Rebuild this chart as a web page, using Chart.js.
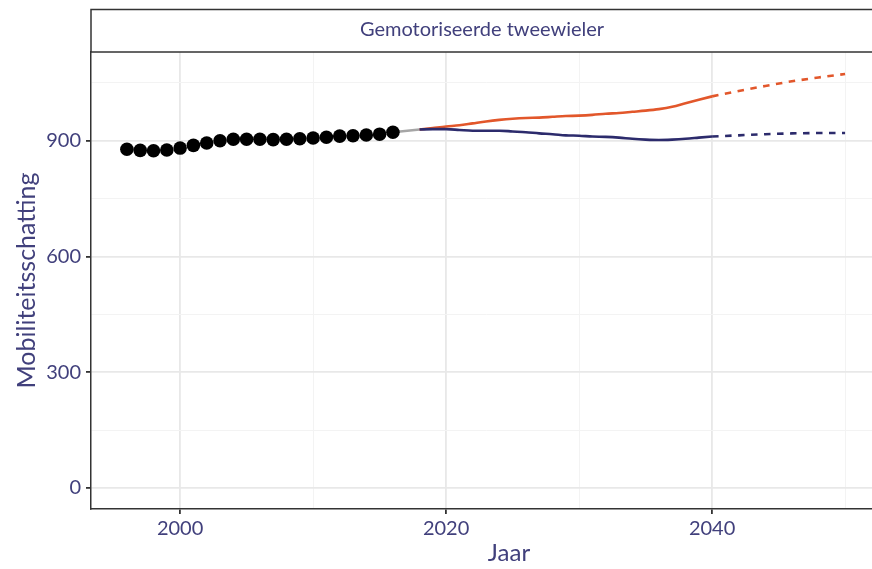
<!DOCTYPE html>
<html>
<head>
<meta charset="utf-8">
<script src="https://cdn.jsdelivr.net/npm/chart.js@4.4.0/dist/chart.umd.min.js"></script>
<style>
  html, body { margin: 0; padding: 0; overflow: hidden; background: #fff; }
  #wrap { width: 900px; height: 569px; }
</style>
</head>
<body>
<div id="wrap"><canvas id="mobChart" width="900" height="569"></canvas></div>
<script>
// gemeten waarden (1996-2016)
const obsYears = [1996, 1997, 1998, 1999, 2000, 2001, 2002, 2003, 2004, 2005, 2006,
                  2007, 2008, 2009, 2010, 2011, 2012, 2013, 2014, 2015, 2016];
const obsValues = [878, 875, 874, 876, 881, 888, 894, 900, 904, 904, 904,
                   903, 904, 905, 907, 909, 912, 913, 915, 917, 922];

// overgang naar de prognose
const linkYears = [2016, 2018];
const linkValues = [922, 929];

// prognose tot 2040 (doorgetrokken)
const projYears = [2018, 2019, 2020, 2021, 2022, 2023, 2024, 2025, 2026, 2027, 2028, 2029,
                   2030, 2031, 2032, 2033, 2034, 2035, 2036, 2037, 2038, 2039, 2040];
const highValues = [929, 933, 937, 940, 945, 950, 954, 957, 959, 960, 962, 964,
                    965, 967, 970, 972, 975, 978, 982, 988, 997, 1006, 1015];
const lowValues = [929, 930, 930, 928, 926, 926, 926, 924, 922, 919, 917, 914,
                   913, 911, 910, 908, 905, 903, 902, 903, 905, 908, 911];

// doorkijk 2040-2050 (gestippeld)
const outYears = [2040, 2042, 2044, 2046, 2048, 2050];
const highOut = [1015, 1029, 1042, 1054, 1064, 1073];
const lowOut = [911, 914, 917, 919, 920, 920];

const xTicks = [2000, 2010, 2020, 2030, 2040, 2050];
const yTicks = [0, 150, 300, 450, 600, 750, 900, 1050];
const facetLabel = 'Gemotoriseerde tweewieler';
const xTitle = 'Jaar';
const yTitle = 'Mobiliteitsschatting';

const textColor = '#41407c';
const orange = '#e2572b';
const navy = '#2c2b6c';

const toPoints = (xs, ys) => xs.map((x, i) => ({ x: x, y: ys[i] }));

const stripPlugin = {
    id: 'strip',
    afterDraw(chart) {
        const ctx = chart.ctx;
        const area = chart.chartArea;
        ctx.save();
        ctx.fillStyle = '#ffffff';
        ctx.fillRect(area.left, 9, area.right - area.left, area.top - 9);
        ctx.strokeStyle = '#333333';
        ctx.lineWidth = 1.5;
        ctx.strokeRect(area.left, 9.5, area.right - area.left + 5, area.top - 9.5);
        ctx.fillStyle = textColor;
        ctx.font = '20px Lato';
        ctx.textAlign = 'center';
        ctx.textBaseline = 'middle';
        ctx.fillText(facetLabel, (area.left + area.right) / 2 - 4, 30);
        // x-as titel
        ctx.font = '24px Lato';
        ctx.textBaseline = 'alphabetic';
        ctx.fillText(xTitle, 509, 561);
        ctx.restore();
    }
};

const gridColor = (v, major) => (v % major === 0 ? '#e8e8e8' : '#f3f3f3');

new Chart(document.getElementById('mobChart'), {
    type: 'line',
    data: {
        datasets: [{
            label: 'waarneming',
            data: toPoints(obsYears, obsValues),
            showLine: false,
            pointRadius: 6.8,
            pointBackgroundColor: '#000000',
            pointBorderWidth: 0,
            order: 0
        }, {
            label: 'overgang',
            data: toPoints(linkYears, linkValues),
            borderColor: '#a6a6a6',
            borderWidth: 2.6,
            pointRadius: 0,
            order: 5
        }, {
            label: 'hoog',
            data: toPoints(projYears, highValues),
            borderColor: orange,
            borderWidth: 2.6,
            pointRadius: 0,
            cubicInterpolationMode: 'monotone',
            order: 2
        }, {
            label: 'laag',
            data: toPoints(projYears, lowValues),
            borderColor: navy,
            borderWidth: 2.6,
            pointRadius: 0,
            cubicInterpolationMode: 'monotone',
            order: 1
        }, {
            label: 'hoog 2050',
            data: toPoints(outYears, highOut),
            borderColor: orange,
            borderWidth: 2.6,
            borderDash: [6.5, 6.5],
            pointRadius: 0,
            cubicInterpolationMode: 'monotone',
            order: 3
        }, {
            label: 'laag 2050',
            data: toPoints(outYears, lowOut),
            borderColor: navy,
            borderWidth: 2.6,
            borderDash: [6.5, 6.5],
            pointRadius: 0,
            cubicInterpolationMode: 'monotone',
            order: 4
        }]
    },
    options: {
        responsive: false,
        animation: false,
        devicePixelRatio: 1,
        layout: {
            padding: { top: 52, right: 19, bottom: 0, left: 0 }
        },
        plugins: {
            legend: { display: false },
            title: { display: false },
            tooltip: { enabled: false }
        },
        scales: {
            x: {
                type: 'linear',
                min: 1993.3,
                max: 2052.7,
                afterBuildTicks: (scale) => { scale.ticks = xTicks.map(v => ({ value: v })); },
                afterFit: (scale) => { scale.height = 60; },
                ticks: {
                    color: textColor,
                    font: { family: 'Lato', size: 20 },
                    padding: 3,
                    autoSkip: false,
                    maxRotation: 0,
                    callback: (v) => (v % 20 === 0 ? String(v) : '')
                },
                grid: {
                    color: (c) => gridColor(c.tick.value, 20),
                    lineWidth: (c) => (c.tick.value % 20 === 0 ? 1.8 : 1),
                    tickColor: (c) => (c.tick.value % 20 === 0 ? '#333333' : 'rgba(0,0,0,0)'),
                    tickLength: 5
                },
                border: { display: true, color: '#333333', width: 1.5 }
            },
            y: {
                type: 'linear',
                min: -54.5,
                max: 1130,
                afterBuildTicks: (scale) => { scale.ticks = yTicks.map(v => ({ value: v })); },
                afterFit: (scale) => { scale.width = 91; },
                ticks: {
                    color: textColor,
                    font: { family: 'Lato', size: 20 },
                    padding: 5,
                    callback: (v) => (v % 300 === 0 ? String(v) : '')
                },
                grid: {
                    color: (c) => gridColor(c.tick.value, 300),
                    lineWidth: (c) => (c.tick.value % 300 === 0 ? 1.8 : 1),
                    tickColor: (c) => (c.tick.value % 300 === 0 ? '#333333' : 'rgba(0,0,0,0)'),
                    tickLength: 5
                },
                border: { display: true, color: '#333333', width: 1.5 },
                title: {
                    display: true,
                    text: yTitle,
                    color: textColor,
                    font: { family: 'Lato', size: 25 },
                    padding: { top: 12, bottom: 0 }
                }
            }
        }
    },
    plugins: [stripPlugin]
});
</script>
</body>
</html>
